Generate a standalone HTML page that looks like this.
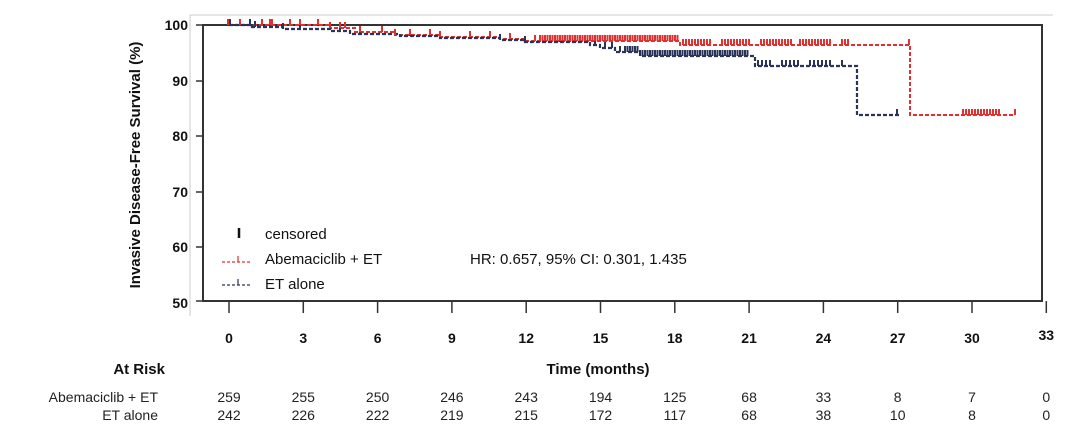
<!DOCTYPE html>
<html><head><meta charset="utf-8"><style>
html,body{margin:0;padding:0;background:#fff;}
svg{display:block;font-family:"Liberation Sans",Arial,sans-serif;}
</style></head><body>
<svg id="s" width="1080" height="441" viewBox="0 0 1080 441" xmlns="http://www.w3.org/2000/svg">
<rect width="1080" height="441" fill="#fff"/>
<line x1="190" y1="15" x2="1053" y2="15" stroke="#ccc" stroke-width="1"/>
<line x1="190" y1="15" x2="190" y2="316" stroke="#ccc" stroke-width="1"/>
<rect x="203" y="25" width="839" height="276" fill="none" stroke="#333" stroke-width="2"/>
<g stroke="#333" stroke-width="1.5">
<line x1="196" y1="25" x2="203" y2="25"/><line x1="196" y1="81" x2="203" y2="81"/><line x1="196" y1="136" x2="203" y2="136"/><line x1="196" y1="192" x2="203" y2="192"/><line x1="196" y1="247" x2="203" y2="247"/><line x1="196" y1="301" x2="203" y2="301"/>
</g>
<g font-size="14" font-weight="bold" text-anchor="end" fill="#111">
<text x="188" y="30">100</text><text x="188" y="86">90</text><text x="188" y="141">80</text><text x="188" y="197">70</text><text x="188" y="252">60</text><text x="188" y="308">50</text>
</g>
<text transform="translate(140,165) rotate(-90)" font-size="15" font-weight="bold" text-anchor="middle" fill="#111">Invasive Disease-Free Survival (%)</text>
<g id="xt" stroke="#333" stroke-width="1.5"></g>
<g id="xl" font-size="14" font-weight="bold" text-anchor="middle" fill="#111"></g>
<text x="598" y="374" font-size="15" font-weight="bold" text-anchor="middle" fill="#111">Time (months)</text>
<text x="165" y="374" font-size="15" font-weight="bold" text-anchor="end" fill="#111">At Risk</text>
<g font-size="14" fill="#222">
<text x="158" y="402" text-anchor="end">Abemaciclib + ET</text>
<text x="158" y="420" text-anchor="end">ET alone</text>
</g>
<g id="r1" font-size="14" text-anchor="middle" fill="#222"></g>
<g id="r2" font-size="14" text-anchor="middle" fill="#222"></g>
<path id="red" fill="none" stroke="#e03030" stroke-width="2" stroke-dasharray="4,2"/>
<path id="blue" fill="none" stroke="#2a3358" stroke-width="2.2" stroke-dasharray="4,2"/>
<g id="bc" stroke="#2a3358" stroke-width="2"></g>
<g id="rc" stroke="#e03030" stroke-width="2"></g>
<line x1="239" y1="228" x2="239" y2="238" stroke="#111" stroke-width="2.5"/>
<text x="265" y="239" font-size="15" fill="#111">censored</text>
<line x1="222" y1="262" x2="250" y2="262" stroke="#e03030" stroke-width="1.2" stroke-dasharray="3,2"/><line x1="238" y1="256" x2="238" y2="262" stroke="#e03030" stroke-width="1.2"/>
<text x="265" y="264" font-size="15" fill="#111">Abemaciclib + ET</text>
<text x="470" y="264" font-size="15" fill="#111">HR: 0.657, 95% CI: 0.301, 1.435</text>
<line x1="222" y1="285" x2="250" y2="285" stroke="#2a3358" stroke-width="1.2" stroke-dasharray="3,2"/><line x1="238" y1="279" x2="238" y2="285" stroke="#2a3358" stroke-width="1.2"/>
<text x="265" y="289" font-size="15" fill="#111">ET alone</text>
</svg>
<script>
var ns="http://www.w3.org/2000/svg";
function el(p,t,a,txt){var e=document.createElementNS(ns,t);for(var k in a)e.setAttribute(k,a[k]);if(txt!==undefined)e.textContent=txt;document.getElementById(p).appendChild(e);}
var a1=[259,255,250,246,243,194,125,68,33,8,7,0],a2=[242,226,222,219,215,172,117,68,38,10,8,0];
for(var i=0;i<12;i++){var x=229+i*74.3;
el("xt","line",{x1:x,y1:301,x2:x,y2:313});
el("xl","text",{x:x,y:i==11?340:343},String(i*3));
el("r1","text",{x:x,y:402},a1[i]);el("r2","text",{x:x,y:420},a2[i]);}
function path(id,pts){var d="M"+pts[0][0]+","+pts[0][1];for(var i=1;i<pts.length;i++){d+="H"+pts[i][0]+"V"+pts[i][1];}document.getElementById(id).setAttribute("d",d);}
var red=[[229,25],[330,28],[355,32],[395,35],[440,37],[500,39],[523,41],[680,45],[910,115],[1015,115]];
var blue=[[229,25],[252,27],[283,29],[330,31],[350,34],[400,36],[440,38],[500,40],[525,42],[590,45],[600,48],[615,52],[640,56],[755,66],[857,115],[900,115]];
path("red",red);path("blue",blue);
function yAt(pts,x){var y=pts[0][1];for(var i=0;i<pts.length;i++){if(pts[i][0]<=x)y=pts[i][1];}return y;}
function cens(id,pts,xs){xs.forEach(function(x){var y=yAt(pts,x);el(id,"line",{x1:x,y1:y-6,x2:x,y2:y});});}
var rx=[228,240,262,270,272,290,300,318,330,340,345,360,382,395,410,430,440,470,490,510,535];
for(var x=540;x<680;x+=2.5)rx.push(x);
for(var x=683;x<850;x+=3)if((x%40)<32)rx.push(x);
rx.push(909,1015);
var bx=[230,250,255,283,300,340,360,410,430,470,500,510,525,545,560,580,595,605,612,620];
for(var x=625;x<750;x+=2.5)bx.push(x);
for(var x=758;x<845;x+=4)if((x%30)<22)bx.push(x);
bx.push(897);
var rx2=[];for(var x=963;x<1000;x+=3)rx2.push(x);
cens("bc",blue,bx);cens("rc",red,rx.concat(rx2));
</script>
</body></html>
